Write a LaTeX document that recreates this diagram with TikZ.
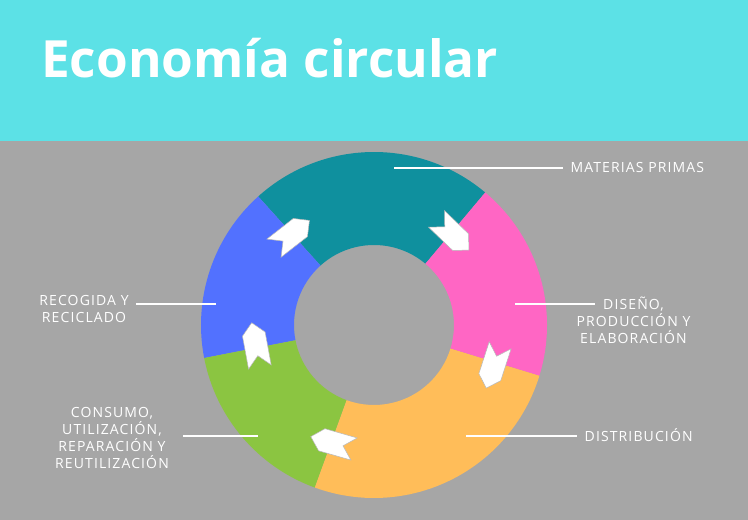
\documentclass[tikz,border=0pt]{standalone}
\usepackage{fontspec}
\setmainfont{Open Sans}
\newfontfamily\labelfont[LetterSpace=8]{Open Sans}
\usetikzlibrary{positioning}
\definecolor{banner}{HTML}{5CE1E6}
\definecolor{backgr}{HTML}{A6A6A6}
\definecolor{segteal}{HTML}{0F909E}
\definecolor{segpink}{HTML}{FF66C4}
\definecolor{segorange}{HTML}{FFBD59}
\definecolor{seggreen}{HTML}{8BC541}
\definecolor{segblue}{HTML}{5271FF}

\begin{document}
\begin{tikzpicture}[
  x=1pt,
  y=1pt,
  lbl/.style={text=white, font=\labelfont\fontsize{14}{17}\selectfont, inner sep=0pt, align=center},
  leader/.style={draw=white, line width=1.6pt},
  chevron/.style={fill=white, draw=black!28, line width=0.5pt},
  chev/.pic={\draw[chevron] (-22.5,11.5) -- (11,11.5) -- (22.5,0) -- (11,-11.5) -- (-22.5,-11.5) -- (-11,0) -- cycle;}
]
  \useasboundingbox (0,0) rectangle (748,520);
  \fill[backgr] (0,0) rectangle (748,379);
  \fill[banner] (0,379) rectangle (748,520);
  \node[anchor=base west, text=white, inner sep=0pt, font=\fontsize{51.3}{60}\selectfont\bfseries] (title) at (41,442.3) {Economía circular};

  \coordinate (ctr) at (374,195);
  \fill[segteal, shift={(ctr)}] (50:173) arc[start angle=50, end angle=132, radius=173pt] -- (132:80) arc[start angle=132, end angle=50, radius=80pt] -- cycle;
  \fill[segblue, shift={(ctr)}] (132:173) arc[start angle=132, end angle=191, radius=173pt] -- (191:80) arc[start angle=191, end angle=132, radius=80pt] -- cycle;
  \fill[seggreen, shift={(ctr)}] (191:173) arc[start angle=191, end angle=250, radius=173pt] -- (250:80) arc[start angle=250, end angle=191, radius=80pt] -- cycle;
  \fill[segorange, shift={(ctr)}] (250:173) arc[start angle=250, end angle=343, radius=173pt] -- (343:80) arc[start angle=343, end angle=250, radius=80pt] -- cycle;
  \fill[segpink, shift={(ctr)}] (343:173) arc[start angle=343, end angle=410, radius=173pt] -- (410:80) arc[start angle=410, end angle=343, radius=80pt] -- cycle;

  \pic[rotate=-44] (arr1) at (452.7,285.5) {chev};
  \pic[rotate=-108] (arr2) at (493.2,153.3) {chev};
  \pic[rotate=164] (arr3) at (332.4,77.2) {chev};
  \pic[rotate=100.5] (arr4) at (255.8,175.1) {chev};
  \pic[rotate=38] (arr5) at (291.7,285.7) {chev};

  \node[lbl, anchor=base west] (lmat) at (570.4,347.3) {MATERIAS PRIMAS};
  \node[lbl, anchor=base] (ldis) at (633.5,176.7) {DISEÑO,\\PRODUCCIÓN Y\\ELABORACIÓN};
  \node[lbl, anchor=base] (lrec) at (84,197.7) {RECOGIDA Y\\RECICLADO};
  \node[lbl, anchor=base] (lcon) at (112,51.7) {CONSUMO,\\UTILIZACIÓN,\\REPARACIÓN Y\\REUTILIZACIÓN};
  \node[lbl, anchor=base west] (ldist) at (584.5,78.3) {DISTRIBUCIÓN};

  \coordinate (pmat) at (394.3,351.7);
  \coordinate (qmat) at (563.3,351.7);
  \coordinate (pdis) at (515,216);
  \coordinate (qdis) at (595,216);
  \coordinate (prec) at (216,216);
  \coordinate (qrec) at (136,216);
  \coordinate (pcon) at (257.7,84);
  \coordinate (qcon) at (183.3,84);
  \coordinate (pdist) at (466,84);
  \coordinate (qdist) at (576.7,84);
  \draw[leader] (pmat) -- (qmat);
  \draw[leader] (pdis) -- (qdis);
  \draw[leader] (prec) -- (qrec);
  \draw[leader] (pcon) -- (qcon);
  \draw[leader] (pdist) -- (qdist);
\end{tikzpicture}
\end{document}
